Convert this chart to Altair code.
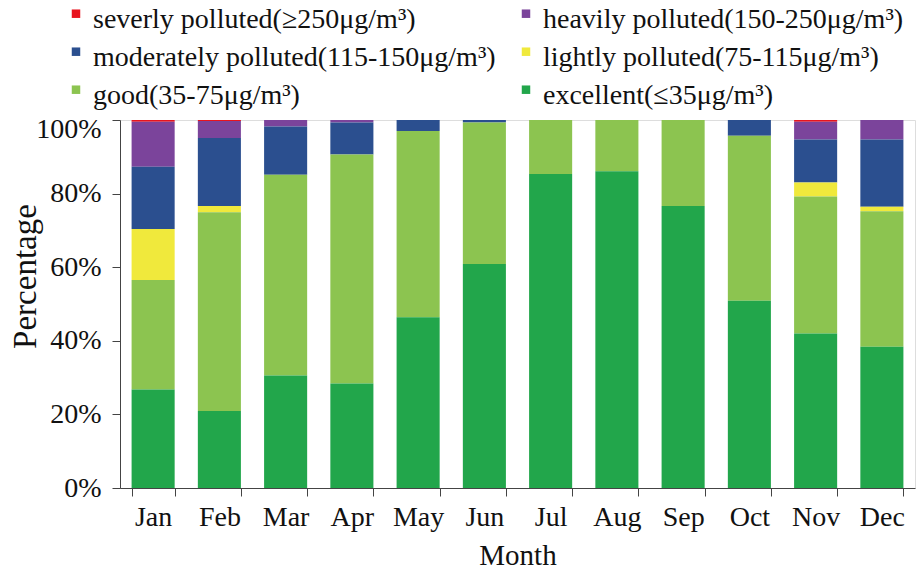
import altair as alt
import pandas as pd

months = ["Jan", "Feb", "Mar", "Apr", "May", "Jun",
          "Jul", "Aug", "Sep", "Oct", "Nov", "Dec"]

levels = [
    "severly polluted(≥250μg/m³)",
    "heavily polluted(150-250μg/m³)",
    "moderately polluted(115-150μg/m³)",
    "lightly polluted(75-115μg/m³)",
    "good(35-75μg/m³)",
    "excellent(≤35μg/m³)",
]
colors = ["#e8141e", "#7b449b", "#2b4f8f", "#f0e93c", "#8cc450", "#22a64b"]

# monthly share of days (%) per air-quality level
excellent = [26.8, 20.9, 30.6, 28.4, 46.4, 60.9, 85.3, 86.1, 76.6, 50.9, 42.0, 38.4]
good      = [29.7, 54.0, 54.5, 62.2, 50.6, 38.4, 14.7, 13.9, 23.4, 44.8, 37.2, 36.8]
lightly   = [13.9,  1.7,  0.0,  0.0,  0.0,  0.0,  0.0,  0.0,  0.0,  0.0,  3.8,  1.2]
moderate  = [16.9, 18.5, 13.1,  8.7,  3.0,  0.7,  0.0,  0.0,  0.0,  4.3, 11.7, 18.3]
heavily   = [12.2,  4.6,  1.8,  0.7,  0.0,  0.0,  0.0,  0.0,  0.0,  0.0,  4.8,  5.3]
severely  = [ 0.5,  0.3,  0.0,  0.0,  0.0,  0.0,  0.0,  0.0,  0.0,  0.0,  0.5,  0.0]

series = [severely, heavily, moderate, lightly, good, excellent]

rows = []
for lvl_idx, (lvl, vals) in enumerate(zip(levels, series)):
    for m, v in zip(months, vals):
        # excellent sits at the bottom of each stack
        rows.append({"Month": m, "Level": lvl, "Share": v,
                     "rank": len(levels) - 1 - lvl_idx})
df = pd.DataFrame(rows)

FONT = "'Liberation Serif', 'Times New Roman', Times, serif"

chart = alt.Chart(df).mark_bar().encode(
    x=alt.X("Month:N", sort=months,
            scale=alt.Scale(paddingInner=0.35, paddingOuter=0.175),
            axis=alt.Axis(title="Month", labelAngle=0, tickBand="extent",
                          tickSize=8, labelPadding=7, labelBaseline="top",
                          labelFontSize=28, labelFont=FONT, labelColor="#111",
                          titleFont=FONT, titleFontSize=29, titleFontWeight="normal",
                          titleColor="#111", titleBaseline="alphabetic", titleY=76,
                          domainColor="#444", tickColor="#444")),
    y=alt.Y("Share:Q", stack="normalize",
            scale=alt.Scale(domain=[0, 1]),
            axis=alt.Axis(title="Percentage", format=".0%",
                          values=[0, 0.2, 0.4, 0.6, 0.8, 1.0],
                          tickSize=8, labelPadding=11, grid=False,
                          labelFontSize=28, labelFont=FONT, labelColor="#111",
                          labelOffset={"condition": {"test": "datum.value === 1", "value": 9},
                                       "value": 0},
                          titleFont=FONT, titleFontSize=33, titleFontWeight="normal",
                          titleColor="#111", titleAngle=270, titleBaseline="alphabetic",
                          titleX=-85, titleY=156,
                          domainColor="#444", tickColor="#444")),
    color=alt.Color("Level:N",
                    scale=alt.Scale(domain=levels, range=colors),
                    legend=alt.Legend(title=None, orient="none", direction="horizontal",
                                      legendX=-58, legendY=-114.4,
                                      columns=2, columnPadding=16, rowPadding=10,
                                      padding=0, labelFont=FONT, labelFontSize=28,
                                      labelColor="#111", labelLimit=700,
                                      labelOffset=3, labelBaseline="middle",
                                      symbolType="M-1,-2.39H1V-0.39H-1Z",
                                      symbolSize=72, symbolStrokeWidth=0)),
    order=alt.Order("rank:Q", sort="ascending"),
).properties(
    width=795,
    height=368,
    autosize=alt.AutoSizeParams(type="none"),
    padding={"left": 120, "top": 120, "right": 7, "bottom": 85},
).configure_view(
    stroke="#888", strokeWidth=1
).configure(
    background="white"
)

chart.save("out.html", embed_options={"renderer": "svg", "actions": False})
